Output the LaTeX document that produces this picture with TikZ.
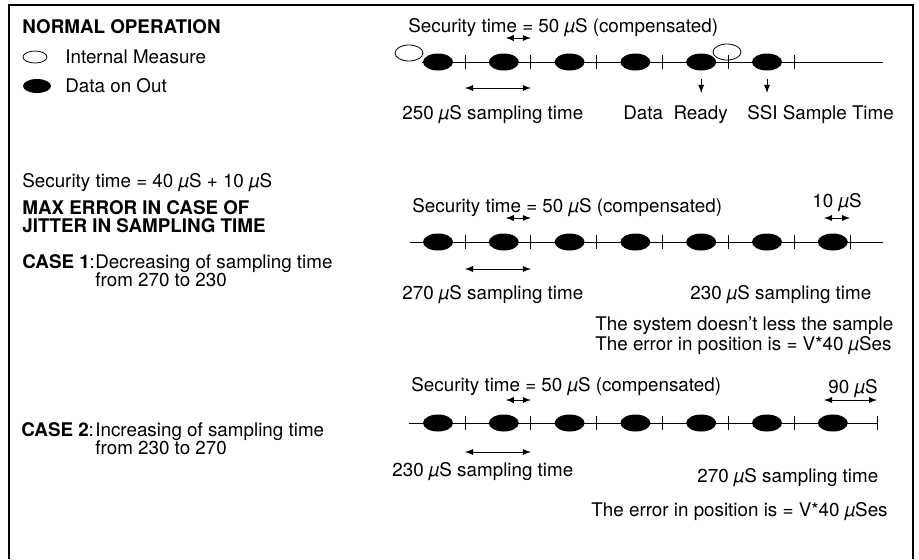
\documentclass[tikz,border=0pt]{standalone}
\usepackage{fontspec}
\setmainfont{TeX Gyre Heros}
\usetikzlibrary{shapes.geometric}

\newcommand{\uS}{\textit{µ}S}

\tikzstyle{data}=[ellipse, fill, minimum width=15pt, minimum height=8.5pt, inner sep=0pt]
\tikzstyle{measure}=[ellipse, draw, minimum width=14pt, minimum height=8pt, inner sep=0pt]
\tikzstyle{txt}=[anchor=west, inner sep=0pt, align=left]
\tikzstyle{arrow}=[-latex]
\tikzstyle{span}=[latex-latex]
\tikzstyle{frame}=[line width=0.7pt]

\begin{document}
\begin{tikzpicture}[x=0.5pt, y=-0.5pt, font=\fontsize{9.4}{9}\selectfont]
  \useasboundingbox (0,0) rectangle (919,559);
  \draw[frame] (9,559) -- (9,5) -- (913,5) -- (913,559);

  % legend and left column
  \node[txt] (title) at (22,27) {\textbf{NORMAL OPERATION}};
  \node[measure, minimum width=12pt, minimum height=6pt] (legm) at (35,57) {};
  \node[txt] (legmt) at (65,57) {Internal Measure};
  \node[data, minimum width=14pt, minimum height=7pt] (legd) at (37,86) {};
  \node[txt] (legdt) at (65,86) {Data on Out};
  \node[txt] (sec) at (22,183) {Security time = 40 \uS{} + 10 \uS};
  \node[txt] (maxerr) at (22,217) {\textbf{MAX ERROR IN CASE OF}\\\textbf{JITTER IN SAMPLING TIME}};
  \node[txt] (case1) at (22,262) {\textbf{CASE 1}:};
  \node[txt] (case1t) at (95,271) {Decreasing of sampling time\\from 270 to 230};
  \node[txt] (case2) at (21,430) {\textbf{CASE 2}:};
  \node[txt] (case2t) at (95,439) {Increasing of sampling time\\from 230 to 270};

  % normal operation
  \coordinate (ops) at (422,62);
  \coordinate (ope) at (883,62);
  \draw (ops) -- (ope);
  \foreach \i in {0,...,5} {
    \coordinate (opt\i) at ({465+65.8*\i},62);
    \draw ([yshift=3.5pt]opt\i) -- ([yshift=-3.5pt]opt\i);
    \node[data] (op\i) at ({438+65.8*\i},62) {};
  }
  \node[measure] (opm0) at (409,53) {};
  \node[measure] (opm1) at (727,52) {};
  \node[txt] (opsec) at (408,28) {Security time = 50 \uS{} (compensated)};
  \draw[span] ([xshift=-12.5pt,yshift=12pt]opt1) -- ([yshift=12pt]opt1);
  \draw[span] ([yshift=-13pt]opt0) -- ([yshift=-13pt]opt1);
  \draw[arrow] ([yshift=-4pt]op4.south) -- ([yshift=-11pt]op4.south);
  \draw[arrow] ([yshift=-4pt]op5.south) -- ([yshift=-11pt]op5.south);
  \node[txt] (opsamp) at (402,115) {250 \uS{} sampling time};
  \node[txt] (ready) at (623,115) {Data~~Ready};
  \node[txt] (ssi) at (747,115) {SSI Sample Time};

  % case 1
  \coordinate (cas) at (410,242);
  \coordinate (cae) at (883,242);
  \draw (cas) -- (cae);
  \foreach \i in {0,...,5} {
    \coordinate (cat\i) at ({465+65.8*\i},242);
  }
  \coordinate (cat6) at (850,242);
  \foreach \i in {0,...,6} {
    \draw ([yshift=3.5pt]cat\i) -- ([yshift=-3.5pt]cat\i);
    \node[data] (ca\i) at ({438+65.8*\i},242) {};
  }
  \node[txt] (casec) at (412,208) {Security time = 50 \uS{} (compensated)};
  \draw[span] ([xshift=-12.5pt,yshift=12pt]cat1) -- ([yshift=12pt]cat1);
  \node (caten) at (837,203) {10 \uS};
  \draw[span] ([xshift=-13pt,yshift=12pt]cat6) -- ([yshift=12pt]cat6);
  \draw[span] ([yshift=-13.5pt]cat0) -- ([yshift=-13.5pt]cat1);
  \node[txt] (casamp) at (402,295) {270 \uS{} sampling time};
  \node[txt] (casamp2) at (690,295) {230 \uS{} sampling time};
  \node[txt] (caerr) at (595,336) {The system doesn’t less the sample\\The error in position is = V*40 \uS es};

  % case 2
  \coordinate (cbs) at (409,423);
  \coordinate (cbe) at (877,423);
  \draw (cbs) -- (cbe);
  \foreach \i in {0,...,5} {
    \coordinate (cbt\i) at ({465+65.8*\i},423);
  }
  \coordinate (cbt6) at (877,423);
  \foreach \i in {0,...,6} {
    \draw ([yshift=3.5pt]cbt\i) -- ([yshift=-3.5pt]cbt\i);
    \node[data] (cb\i) at ({438+65.8*\i},423) {};
  }
  \node[txt] (cbsec) at (411,387) {Security time = 50 \uS{} (compensated)};
  \draw[span] ([xshift=-12.5pt,yshift=11.5pt]cbt1) -- ([yshift=11.5pt]cbt1);
  \node (cbninety) at (853,389) {90 \uS};
  \draw[span] ([xshift=-26.5pt,yshift=11.5pt]cbt6) -- ([yshift=11.5pt]cbt6);
  \draw[span] ([yshift=-14.5pt]cbt0) -- ([yshift=-14.5pt]cbt1);
  \node[txt] (cbsamp) at (392,472) {230 \uS{} sampling time};
  \node[txt] (cbsamp2) at (697,478) {270 \uS{} sampling time};
  \node[txt, anchor=east] (cberr) at (888,512) {The error in position is = V*40 \uS es};
\end{tikzpicture}
\end{document}
